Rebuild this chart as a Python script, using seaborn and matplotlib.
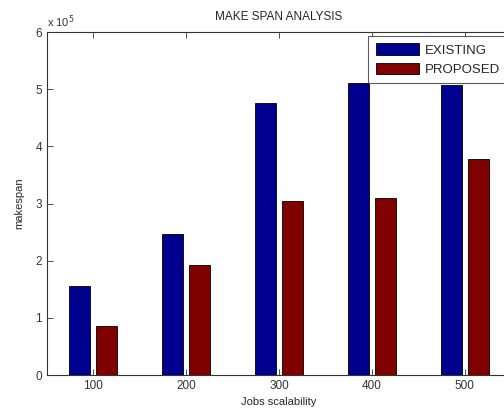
import pandas as pd
import seaborn as sns
import matplotlib.pyplot as plt
from matplotlib.ticker import FuncFormatter

jobs = ['100', '200', '300', '400', '500']
existing = [156000, 247000, 476000, 510000, 508000]
proposed = [86000, 192000, 304000, 310000, 378000]

df = pd.DataFrame({
    'jobs': jobs * 2,
    'makespan': existing + proposed,
    'method': ['EXISTING'] * 5 + ['PROPOSED'] * 5,
})

sns.set_style('white')
plt.rcParams['font.family'] = ['Liberation Sans', 'DejaVu Sans']
plt.rcParams['font.size'] = 8

fig = plt.figure(figsize=(5.04, 4.13), dpi=100)
# axes runs a bit past the right edge, like the cropped original
ax = fig.add_axes([47 / 504, 38 / 413, 464 / 504, 343 / 413])

sns.barplot(data=df, x='jobs', y='makespan', hue='method',
            palette=['#00008f', '#800000'], width=0.58, gap=0.22,
            edgecolor='black', linewidth=0.6, saturation=1, ax=ax)

ax.set_xlim(-0.5, 4.5)
ax.set_ylim(0, 600000)
ax.set_yticks([i * 100000 for i in range(7)])
ax.yaxis.set_major_formatter(FuncFormatter(lambda v, p: '%d' % round(v / 1e5)))
ax.text(0, 1.005, 'x 10$^5$', transform=ax.transAxes, fontsize=8,
        ha='left', va='bottom', color='#333333')

ax.set_title('MAKE SPAN ANALYSIS', fontsize=8.5, pad=9)
ax.set_xlabel('Jobs scalability', fontsize=8, labelpad=4)
ax.set_ylabel('makespan', fontsize=8, labelpad=8)

ax.tick_params(direction='in', length=4, width=0.6, top=True, right=True,
               bottom=True, left=True, labelsize=8.5, colors='#333333')
for s in ax.spines.values():
    s.set_color('#333333')
    s.set_linewidth(0.8)

leg = ax.legend(loc='upper right', fontsize=9.5, frameon=True, fancybox=False,
                edgecolor='#333333', handlelength=3.3, handleheight=1.0,
                borderaxespad=0.3, labelspacing=0.45, handletextpad=0.4,
                borderpad=0.55)
leg.get_frame().set_linewidth(0.8)

fig.savefig('out.png', dpi=100)
